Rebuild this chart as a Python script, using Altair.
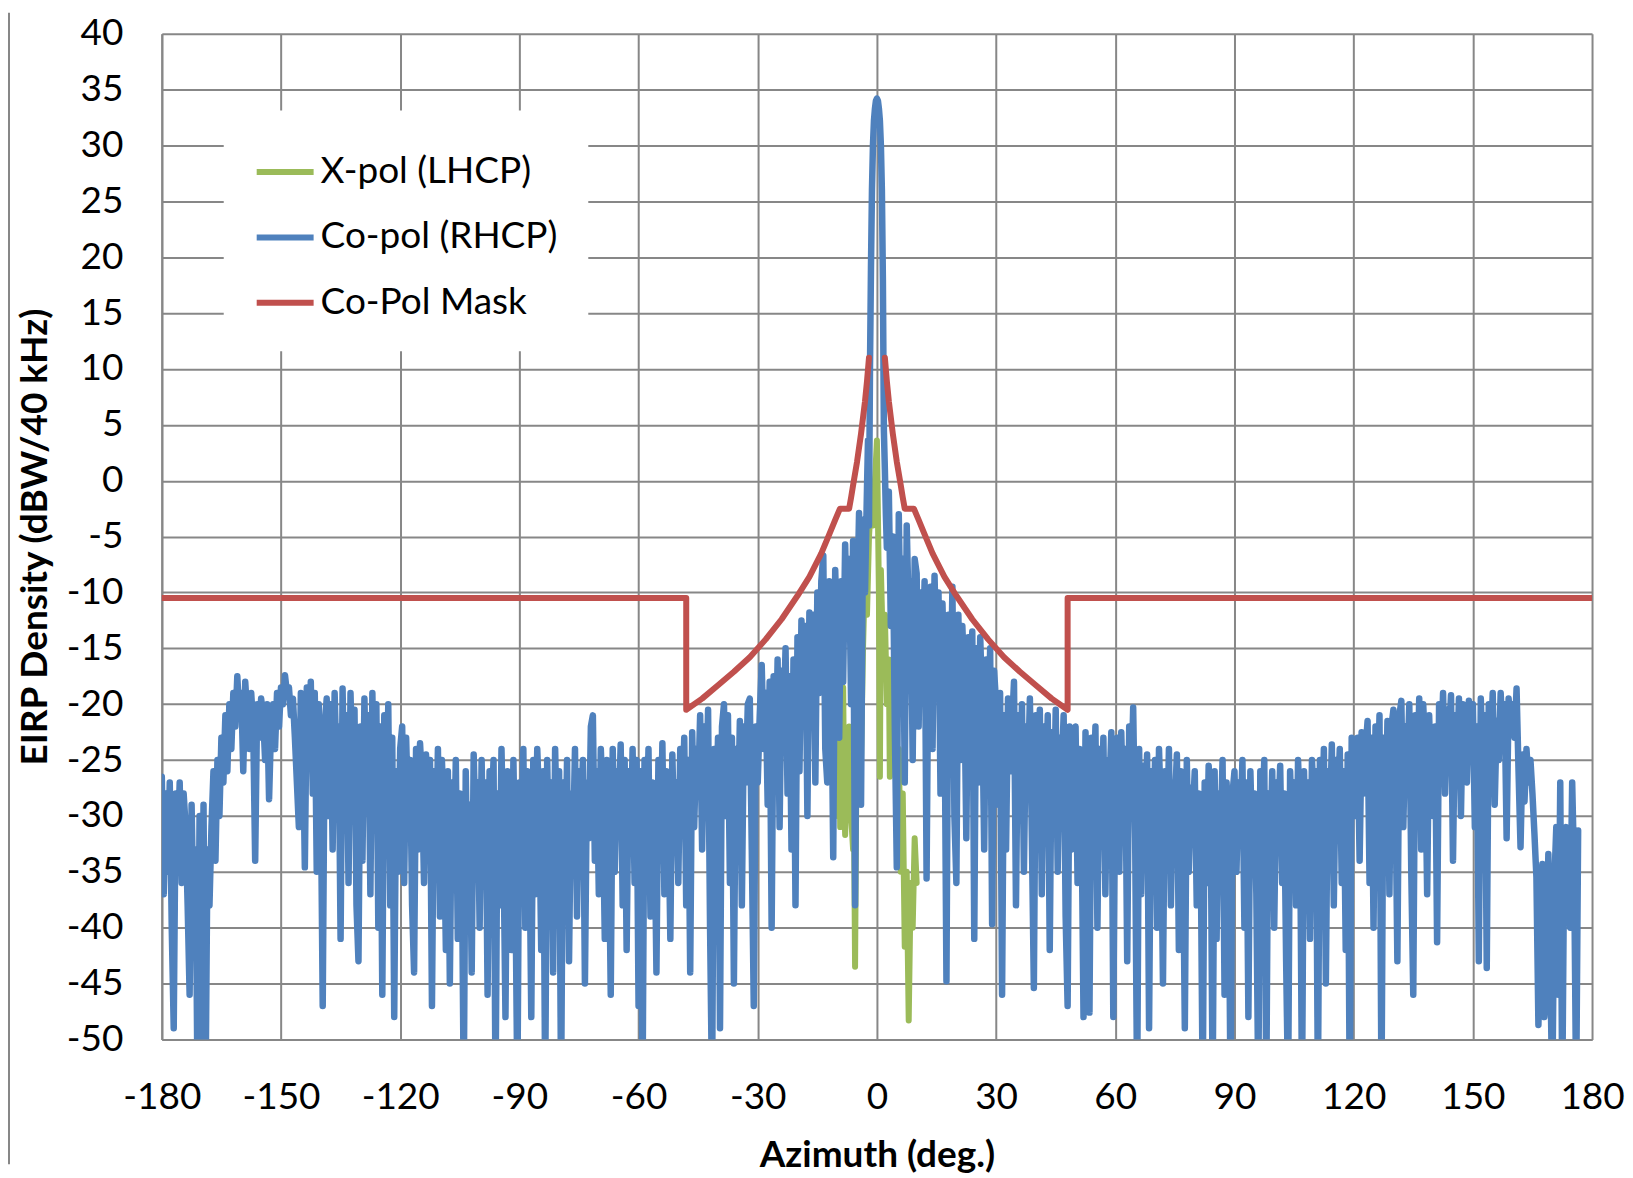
import altair as alt
import numpy as np
import pandas as pd

# ---------------- data ----------------
series_names = ["X-pol (LHCP)", "Co-pol (RHCP)", "Co-Pol Mask"]
series_colors = ["#9BBB59", "#4F81BD", "#C0504D"]

x_ticks = [-180, -150, -120, -90, -60, -30, 0, 30, 60, 90, 120, 150, 180]
y_ticks = [-50, -45, -40, -35, -30, -25, -20, -15, -10, -5, 0, 5, 10, 15, 20, 25, 30, 35, 40]

# Co-pol, azimuth -180 .. -2.5 every 0.5 deg
copol_left = [
    -26.5, -37, -28, -35, -27, -40, -49, -28, -33, -27, -36, -28, -31, -38, -46, -29, -40, -33, -55, -30,
    -55, -29, -55, -33, -38, -31, -26, -34, -25, -30, -23, -27, -21, -26, -20, -24, -19, -22, -17.5, -21,
    -19, -26, -18, -21, -24, -19, -22, -34, -20, -23, -19.5, -21, -25, -20, -28.5, -22, -20, -24, -19, -22,
    -18.5, -20, -17.4, -19, -18.5, -21, -19.5, -23, -27, -31, -19, -22, -34.6, -18.5, -25, -18, -28, -19, -35, -20,
    -27, -47, -22, -19.5, -30, -20, -33, -19, -26, -22, -41, -18.6, -30, -21, -36, -19, -27, -20.5, -38, -43,
    -22, -34, -19.5, -29, -21, -37, -19, -31, -20, -40, -22, -46, -21, -33, -20, -38, -23, -48, -26, -35,
    -24, -22, -36, -23, -30, -25, -38, -44, -24, -33, -23.5, -27, -36, -24.5, -31, -25, -47, -26, -34, -24,
    -39, -25, -30, -42, -26, -45, -27, -35, -25, -41, -28, -33, -55, -26, -38, -29, -44, -24.5, -32, -27,
    -40, -25, -36, -27, -46, -26, -30, -25, -55, -28, -38, -24, -33, -48, -26, -31, -42, -25, -36, -55,
    -27, -34, -24, -40, -26, -31, -48, -25, -37, -24, -29, -42, -26, -55, -25, -35, -27, -44, -24, -32,
    -26, -55, -27, -36, -25, -43, -28, -33, -24, -39, -26, -30, -25, -45, -27, -32, -22, -21, -34, -26,
    -37, -24, -29, -41, -25, -31, -46, -24, -35, -26, -30, -23.6, -38, -25, -42, -26, -33, -24, -36, -25,
    -47, -26, -55, -25, -33, -24, -39, -27, -30, -44, -25, -34, -23.5, -37, -26, -29, -41, -24.5, -32, -27,
    -36, -24, -30, -23, -38, -25, -44, -22.5, -31, -24, -28, -21, -33, -22, -29, -20.5, -40, -55, -24, -31,
    -23, -49, -22, -20, -30, -21, -36, -23, -45, -24, -31, -21.5, -38, -22, -27, -20, -19.5, -33, -47, -22,
    -27, -21, -16.5, -24, -19, -29, -18, -40, -17.5, -26, -16, -31, -17, -22, -15, -28, -17.5, -33, -16, -38,
    -14, -26, -12.5, -20, -13, -30, -11.8, -22, -12, -27, -10, -19, -9, -6.7, -24, -27, -9, -16, -33.7, -8,
    -15, -23, -9, -18, -5.7, -14, -7, -20, -5.4, -38, -12, -2.9, -29, -3.5, -10, -0.7,
]

# Co-pol main beam, read every 0.25 deg
beam_az = [-2.25, -2.0, -1.75, -1.5, -1.25, -1.0, -0.75, -0.5, -0.25, 0.0,
           0.25, 0.5, 0.75, 1.0, 1.25, 1.5, 1.75, 2.0, 2.25]
beam_val = [3.6, -4, 10, 19, 26, 30, 32.2, 33.3, 34, 34.2,
            34, 33.3, 32.2, 30, 26, 18, 4.5, 1, -3]

# Co-pol, azimuth 2.5 .. 176.5 every 0.5 deg
copol_right = [
    -6, -1, -13, -5, -22, -34.6, -3, -15, -7, -27, -4, -12, -9, -25, -7,
    -8.3, -22, -10, -17, -9, -35.6, -12, -9.5, -24, -8.5, -16, -10, -28, -11, -19, -44.8, -12, -22, -9.5, -30,
    -36, -12, -25, -13, -18, -32, -14, -22, -13.5, -41, -15, -27, -14, -20, -33, -16, -24, -15, -39.7, -17,
    -20, -29, -19, -46, -21, -33, -19.5, -26, -22, -18, -38, -21, -30, -20, -35, -22, -27, -19.5, -32, -45.4,
    -21, -30, -20.5, -37, -22, -28, -21, -42, -22.5, -31, -20.5, -35, -23, -26, -21, -39, -47, -22, -33, -23,
    -22, -36, -24, -30, -48, -22.5, -34, -47.6, -23, -29, -22, -40, -24, -31, -23, -37, -25, -28, -22.5, -48,
    -26, -23, -35, -22.5, -30, -24, -43, -22, -28, -20.3, -32, -55, -24, -37, -25.5, -31, -24.5, -49, -26, -34,
    -25, -40, -24, -30, -45, -26, -33, -24, -38, -27, -29, -24.5, -42, -26, -31, -49, -25, -35, -27.5, -30,
    -26, -38, -28, -33, -55, -27, -36, -25.5, -29, -55, -26, -41, -28, -32, -25, -46, -27, -31, -55, -28,
    -26, -35, -27, -31, -25, -40, -27, -48, -26, -33, -28, -37, -55, -26, -30, -25, -55, -28, -34, -26,
    -40, -27, -31, -25.5, -36, -28, -43, -55, -26, -32, -27, -38, -25, -30, -55, -26, -35, -27, -41, -25,
    -29, -26, -55, -25, -33, -24, -45, -26, -31, -23.6, -38, -25, -29, -24, -36, -26, -42, -24.5, -55, -23,
    -25, -30, -23, -34, -22.5, -28, -24, -21.5, -36, -23, -40, -22, -29, -21, -55, -23, -32, -21.5, -37, -22,
    -20.5, -27, -43, -21, -19.7, -31, -22, -26, -20, -35, -46, -21, -28, -19.5, -33, -20, -24, -37, -21, -27,
    -30, -22, -41.3, -20, -25, -19, -28, -20.5, -23, -19.2, -34, -21, -26, -19.5, -30, -20, -22.5, -27, -19.7, -24,
    -20, -31, -22, -43, -19.5, -26, -21, -43.6, -20, -24, -19, -29, -21.5, -25, -19, -23, -20, -32, -19.5, -22,
    -20, -23, -18.6, -26, -32.8, -24.5, -28.7, -24, -27, -25, -28, -31.6, -35.5, -48.7, -40, -34.3, -48, -45, -33.4, -44,
    -55, -36, -31, -46, -27, -55, -33, -31, -36, -40, -27, -35, -55, -31.3,
]

# X-pol (only around boresight)
xpol_az = [-10, -9.5, -9.25, -9, -8.75, -8.5, -8.25, -8, -7.5, -7, -6.5, -6, -5.75, -5.5, -5.25,
           -5, -4.5, -4, -3.5, -3, -2.5, -2, -1.5, -1, -0.5, 0, 0.25, 0.5, 0.75, 1, 1.5, 2,
           2.5, 3, 3.25, 3.5, 4, 4.5, 5, 5.5, 6, 6.5, 7, 7.5, 8, 8.5, 9, 9.5, 10]
xpol_val = [-30, -19, -31, -22, -30, -18.5, -28, -31.7, -25, -22, -30, -33, -31, -43.5, -30,
            -22, -18, -25, -15, -8, -12, -5, -2, -4, 0, 3.6, -3, -10, -26.5, -8, -15, -12,
            -20, -16, -26.5, -20, -25, -19, -30, -24, -35, -28, -41.7, -35, -48.3, -36, -40, -32, -36]

# Co-pol mask (two branches)
mask_left_az = [-180, -48, -48, -44, -40, -36, -32, -28, -24, -20, -17, -14, -12, -10.5, -9.3,
                -7, -6.5, -6, -5, -4, -3, -2.5, -2]
mask_left_val = [-10.5, -10.5, -20.5, -19.5, -18.3, -17.1, -15.8, -14.2, -12.4, -10.3, -8.6, -6.5, -4.8, -3.5, -2.5,
                 -2.5, -1.5, -0.4, 1.7, 4.2, 7.1, 8.9, 11]
mask_right_az = [2, 2.5, 3, 4, 5, 6, 6.5, 7, 9.3, 10.5, 12, 14, 17, 20, 24, 28, 32, 36, 40, 44, 48, 48, 180]
mask_right_val = [11, 8.9, 7.1, 4.2, 1.7, -0.4, -1.5, -2.5, -2.5, -3.5, -4.8, -6.5, -8.6, -10.3, -12.4, -14.2,
                  -15.8, -17.1, -18.3, -19.5, -20.5, -10.5, -10.5]

# ---------------- tables ----------------
left_az = -180 + 0.5 * np.arange(len(copol_left))
right_az = 2.5 + 0.5 * np.arange(len(copol_right))
co_az = np.concatenate([left_az, np.array(beam_az), right_az])
co_val = np.concatenate([np.array(copol_left, float), np.array(beam_val, float), np.array(copol_right, float)])
df_co = pd.DataFrame({"az": co_az, "val": co_val, "series": series_names[1]})
df_co["idx"] = np.arange(len(df_co))

df_x = pd.DataFrame({"az": xpol_az, "val": xpol_val, "series": series_names[0]})
df_x["idx"] = np.arange(len(df_x))

df_m = pd.concat([
    pd.DataFrame({"az": mask_left_az, "val": mask_left_val, "seg": "L", "idx": np.arange(len(mask_left_az))}),
    pd.DataFrame({"az": mask_right_az, "val": mask_right_val, "seg": "R", "idx": np.arange(len(mask_right_az))}),
], ignore_index=True)
df_m["series"] = series_names[2]

FONT = "Lato"
GRID = "#878787"
LW = 6

x_enc = alt.X("az:Q", scale=alt.Scale(domain=[-180, 180], nice=False, zero=False),
              axis=alt.Axis(values=x_ticks, title="Azimuth (deg.)", labelExpr="toString(datum.value)",
                            grid=True, gridColor=GRID, gridWidth=2, domainColor=GRID, domainWidth=2,
                            ticks=False, tickSize=0, labelPadding=40, labelFlush=False, labelOverlap=False,
                            labelFont=FONT, labelFontSize=37, labelColor="black",
                            titleFont=FONT, titleFontSize=37, titleFontWeight="bold", titleColor="black",
                            titlePadding=22))
y_enc = alt.Y("val:Q", scale=alt.Scale(domain=[-50, 40], nice=False, zero=False),
              axis=alt.Axis(values=y_ticks, title="EIRP Density (dBW/40 kHz)", labelExpr="toString(datum.value)",
                            grid=True, gridColor=GRID, gridWidth=2, domainColor=GRID, domainWidth=2,
                            ticks=False, tickSize=0, labelPadding=39, labelFlush=False, labelOverlap=False,
                            labelFont=FONT, labelFontSize=37, labelColor="black",
                            titleFont=FONT, titleFontSize=37, titleFontWeight="bold", titleColor="black",
                            titlePadding=12))

legend = alt.Legend(title=None, orient="none", legendX=62, legendY=77, symbolType="stroke",
                    symbolSize=3249, symbolStrokeWidth=LW, labelFont=FONT, labelFontSize=37,
                    labelColor="black", labelOffset=4, rowPadding=15.5, padding=30, fillColor="white",
                    labelLimit=500)
color_enc = alt.Color("series:N", scale=alt.Scale(domain=series_names, range=series_colors),
                      legend=legend, sort=series_names)

line_kw = dict(clip=True, strokeJoin="round", strokeCap="round")
xpol = alt.Chart(df_x).mark_line(**line_kw).encode(
    x=x_enc, y=y_enc, color=color_enc, order="idx:Q", strokeWidth=alt.value(LW))
copol = alt.Chart(df_co).mark_line(**line_kw).encode(
    x=x_enc, y=y_enc, color=color_enc, order="idx:Q", strokeWidth=alt.value(6.5))
mask = alt.Chart(df_m).mark_line(**line_kw).encode(
    x=x_enc, y=y_enc, color=color_enc, detail="seg:N", order="idx:Q", strokeWidth=alt.value(LW))

frame = alt.Chart(pd.DataFrame({"k": [0]})).mark_rule(color=GRID, strokeWidth=2).encode(
    x=alt.value(-153), y=alt.value(-21), y2=alt.value(1132))

chart = alt.layer(xpol, copol, mask, frame).properties(
    width=1432, height=1007, padding={"left": 0, "top": 3, "right": 0, "bottom": 0}
).configure_view(stroke=None)

chart.save("out.html", embed_options={"renderer": "svg", "actions": False})
